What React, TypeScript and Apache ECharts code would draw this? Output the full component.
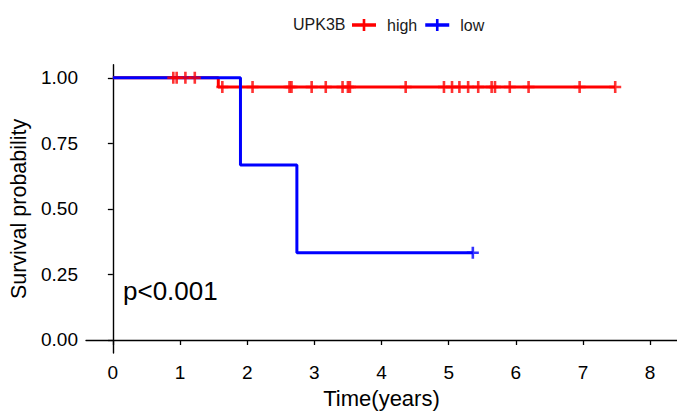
import React, { useEffect, useRef } from "react";
import * as echarts from "echarts";

// ---- data ----
const groupName = "UPK3B";
const highLabel = "high";
const lowLabel = "low";

// Kaplan-Meier step points (time in years, survival probability)
const highTimes = [0, 1.57, 7.48];
const highSurv = [1, 0.965, 0.965];
const highCensor = [0.9, 0.95, 1.08, 1.22, 1.63, 2.08, 2.63, 2.66, 2.96, 3.17, 3.42, 3.5, 3.53, 4.36, 4.93, 5.05, 5.16, 5.29, 5.44, 5.64, 5.69, 5.91, 6.19, 6.95, 7.48];

const lowTimes = [0, 1.9, 2.74, 5.36];
const lowSurv = [1, 0.667, 0.333, 0.333];
const lowCensor = [5.36];

const xTicks = [0, 1, 2, 3, 4, 5, 6, 7, 8];
const yTicks = [0, 0.25, 0.5, 0.75, 1];
const pText = "p<0.001";

const RED = "#FF0000";
const BLUE = "#0000FF";
const FONT = "Liberation Sans, Arial, sans-serif";

function survAt(times: number[], surv: number[], t: number) {
  let s = surv[0];
  for (let i = 0; i < times.length; i++) {
    if (times[i] <= t) s = surv[i];
  }
  return s;
}

const plusIcon = "path://M4.7,0h2.6v12h-2.6z M0,4.7h12v2.6h-12z";
const legendIcon = "path://M0,5h22v3h-22z M9.8,1h2.4v11h-2.4z";

export default function App() {
  const ref = useRef<HTMLDivElement>(null);
  useEffect(() => {
    if (!ref.current) return;
    const chart = echarts.init(ref.current, undefined, { renderer: "svg" });
    const highLine = highTimes.map((t, i) => [t, highSurv[i]]);
    const lowLine = lowTimes.map((t, i) => [t, lowSurv[i]]);
    const highC = highCensor.map((t) => [t, survAt(highTimes, highSurv, t)]);
    const lowC = lowCensor.map((t) => [t, survAt(lowTimes, lowSurv, t)]);
    chart.setOption({
      animation: false,
      backgroundColor: "#ffffff",
      textStyle: { fontFamily: FONT },
      title: {
        text: groupName,
        left: 288,
        top: 11,
        textStyle: { fontSize: 16, fontWeight: "normal", color: "#1a1a1a", fontFamily: FONT },
      },
      legend: {
        left: 347,
        top: 12,
        itemWidth: 24,
        itemHeight: 13,
        itemGap: 8,
        data: [
          { name: highLabel, icon: legendIcon, itemStyle: { color: RED } },
          { name: lowLabel, icon: legendIcon, itemStyle: { color: BLUE } },
        ],
        textStyle: { fontSize: 16, color: "#1a1a1a", fontFamily: FONT, padding: [0, 0, 0, 6] },
      },
      grid: { left: 86, right: -4, top: 64.7, bottom: 57 },
      xAxis: {
        type: "value",
        min: -0.4,
        max: 8.4,
        name: "Time(years)",
        nameLocation: "middle",
        nameGap: 28,
        nameTextStyle: { fontSize: 22, color: "#000", fontFamily: FONT },
        axisLine: { show: true, lineStyle: { color: "#000", width: 1.4 } },
        axisTick: { show: true, customValues: xTicks, length: 5, lineStyle: { color: "#000", width: 1.3 } },
        axisLabel: { customValues: xTicks, fontSize: 19, color: "#000", margin: 10, fontFamily: FONT },
        splitLine: { show: false },
      },
      yAxis: {
        type: "value",
        min: -0.05,
        max: 1.05,
        name: "Survival probability",
        nameLocation: "middle",
        nameGap: 52,
        nameRotate: 90,
        nameTextStyle: { fontSize: 21.5, color: "#000", fontFamily: FONT },
        axisLine: { show: true, lineStyle: { color: "#000", width: 1.4 } },
        axisTick: { show: true, customValues: yTicks, length: 5, lineStyle: { color: "#000", width: 1.3 } },
        axisLabel: {
          customValues: yTicks,
          fontSize: 19,
          color: "#000",
          margin: 8,
          fontFamily: FONT,
          formatter: (v: number) => v.toFixed(2),
        },
        splitLine: { show: false },
      },
      graphic: [
        {
          type: "text",
          left: 123,
          top: 278,
          style: { text: pText, fontSize: 26, fill: "#000", fontFamily: FONT },
        },
      ],
      series: [
        {
          name: highLabel,
          type: "line",
          step: "end",
          data: highLine,
          showSymbol: false,
          symbol: "none",
          lineStyle: { color: RED, width: 3 },
          itemStyle: { color: RED },
          z: 2,
        },
        {
          name: lowLabel,
          type: "line",
          step: "end",
          data: lowLine,
          showSymbol: false,
          symbol: "none",
          lineStyle: { color: BLUE, width: 3 },
          itemStyle: { color: BLUE },
          z: 3,
        },
        {
          name: highLabel,
          type: "scatter",
          data: highC,
          symbol: plusIcon,
          symbolSize: 12,
          itemStyle: { color: RED },
          z: 4,
        },
        {
          name: lowLabel,
          type: "scatter",
          data: lowC,
          symbol: plusIcon,
          symbolSize: 12,
          itemStyle: { color: BLUE },
          z: 4,
        },
      ],
    });
    return () => chart.dispose();
  }, []);
  return (
    <div
      ref={ref}
      style={{ position: "fixed", left: 0, top: 0, width: 677, height: 414, background: "#fff" }}
    />
  );
}
